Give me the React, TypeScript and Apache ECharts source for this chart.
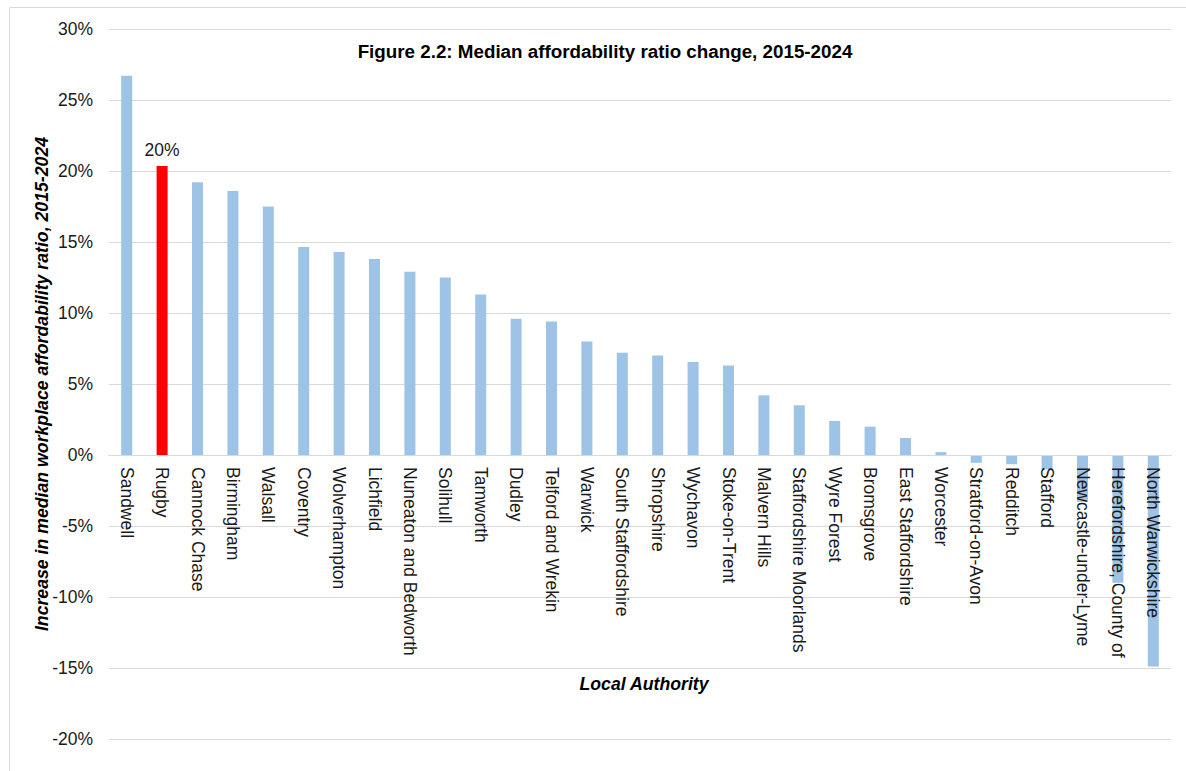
import React, { useEffect, useRef } from "react";
import * as echarts from "echarts";

const categories = [
  "Sandwell", "Rugby", "Cannock Chase", "Birmingham", "Walsall", "Coventry",
  "Wolverhampton", "Lichfield", "Nuneaton and Bedworth", "Solihull", "Tamworth",
  "Dudley", "Telford and Wrekin", "Warwick", "South Staffordshire", "Shropshire",
  "Wychavon", "Stoke-on-Trent", "Malvern Hills", "Staffordshire Moorlands",
  "Wyre Forest", "Bromsgrove", "East Staffordshire", "Worcester",
  "Stratford-on-Avon", "Redditch", "Stafford", "Newcastle-under-Lyme",
  "Herefordshire, County of", "North Warwickshire",
];

const values = [
  26.7, 20.35, 19.2, 18.6, 17.5, 14.65, 14.3, 13.8, 12.9, 12.5, 11.3,
  9.6, 9.4, 8.0, 7.2, 7.0, 6.55, 6.3, 4.2, 3.5, 2.4, 2.0, 1.2, 0.2,
  -0.55, -0.65, -1.0, -3.3, -9.0, -14.9,
];

const highlighted = "Rugby";
const yTicks = { min: -20, max: 30, interval: 5 };

const FONT = "'Liberation Sans', Arial, sans-serif";

const GRID_TOP = 29;
const GRID_HEIGHT = 710;

export default function App() {
  const ref = useRef<HTMLDivElement>(null);
  useEffect(() => {
    if (!ref.current) return;
    const chart = echarts.init(ref.current, null, { renderer: "svg" });
    // distance from the bottom of the grid up to the zero line, in pixels
    const zeroOffset = (GRID_HEIGHT * (0 - yTicks.min)) / (yTicks.max - yTicks.min);
    chart.setOption({
      animation: false,
      backgroundColor: "#ffffff",
      textStyle: { fontFamily: FONT },
      title: {
        text: "Figure 2.2: Median affordability ratio change, 2015-2024",
        left: 600,
        top: 37,
        textAlign: "center",
        textStyle: { fontFamily: FONT, fontSize: 18.8, fontWeight: "bold", color: "#000" },
      },
      grid: {
        left: 109,
        right: 15,
        top: GRID_TOP,
        height: GRID_HEIGHT,
        containLabel: false,
        outerBoundsMode: "none",
      },
      xAxis: {
        type: "category",
        data: categories,
        position: "bottom",
        offset: -zeroOffset,
        z: 10,
        axisLine: { onZero: false, lineStyle: { color: "#d9d9d9", width: 1 } },
        axisTick: { show: false },
        axisLabel: {
          rotate: -90,
          interval: 0,
          margin: 12,
          fontSize: 17.5,
          color: "#1a1a1a",
          fontFamily: FONT,
        },
      },
      yAxis: {
        type: "value",
        min: yTicks.min,
        max: yTicks.max,
        interval: yTicks.interval,
        name: "Increase in median workplace affordability ratio, 2015-2024",
        nameLocation: "middle",
        nameRotate: 90,
        nameGap: 58,
        nameMoveOverlap: false,
        nameTextStyle: {
          fontFamily: FONT,
          fontSize: 17.7,
          fontWeight: "bold",
          fontStyle: "italic",
          color: "#000",
        },
        axisLine: { show: false },
        axisTick: { show: false },
        splitLine: { lineStyle: { color: "#d9d9d9", width: 1 } },
        axisLabel: {
          formatter: (v: number) => `${v}%`,
          fontSize: 17.5,
          margin: 16,
          color: "#1a1a1a",
          fontFamily: FONT,
        },
      },
      graphic: [
        {
          type: "rect",
          silent: true,
          shape: { x: 9.5, y: 7.5, width: 1400, height: 1000 },
          style: { fill: "none", stroke: "#d9d9d9", lineWidth: 1 },
        },
        {
          type: "text",
          x: 644,
          y: 684,
          style: {
            text: "Local Authority",
            font: `italic bold 17.7px ${FONT}`,
            fill: "#000",
            align: "center",
            verticalAlign: "middle",
          },
        },
      ],
      series: [
        {
          type: "bar",
          z: 2,
          data: values.map((v, i) => ({
            value: v,
            itemStyle: { color: categories[i] === highlighted ? "#ff0000" : "#9dc3e6" },
            label:
              categories[i] === highlighted
                ? {
                    show: true,
                    position: "top",
                    distance: 7,
                    formatter: (p: any) => `${Math.round(p.value)}%`,
                    fontSize: 17.5,
                    color: "#1a1a1a",
                    fontFamily: FONT,
                  }
                : { show: false },
          })),
          barWidth: 11,
        },
      ],
    });
    return () => chart.dispose();
  }, []);
  return (
    <div
      ref={ref}
      style={{ position: "fixed", left: 0, top: 0, width: 1186, height: 771 }}
    />
  );
}
